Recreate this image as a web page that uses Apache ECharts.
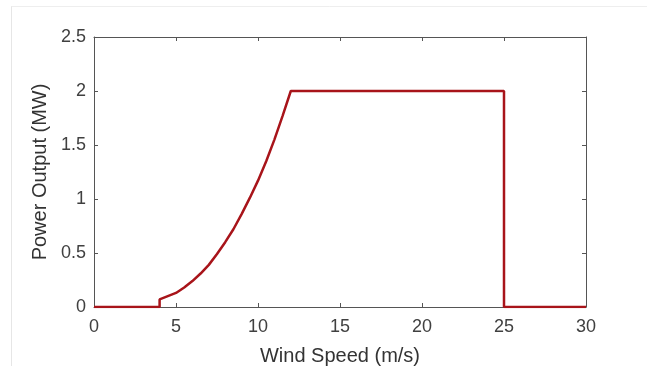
<!DOCTYPE html>
<html>
<head>
<meta charset="utf-8">
<script src="https://cdn.jsdelivr.net/npm/echarts@6/dist/echarts.min.js"></script>
<style>
  html, body { margin: 0; padding: 0; background: #fff; }
  #chart { width: 647px; height: 366px; }
</style>
</head>
<body>
<div id="chart"></div>
<script>
// Power curve: wind speed (m/s) and power output (MW)
var windSpeed = [0, 4, 4, 4.5, 5, 5.5, 6, 6.5, 7, 7.5, 8, 8.5, 9, 9.5, 10, 10.5, 11, 11.5, 12, 25, 25, 30];
var powerOut  = [0, 0, 0.07, 0.1, 0.13, 0.18, 0.24, 0.31, 0.39, 0.49, 0.6, 0.72, 0.86, 1.01, 1.17, 1.35, 1.55, 1.77, 2.0, 2.0, 0, 0];
var xTicks = [0, 5, 10, 15, 20, 25, 30];
var yTicks = [0, 0.5, 1, 1.5, 2, 2.5];

var points = windSpeed.map(function (w, i) { return [w, powerOut[i]]; });

var chart = echarts.init(document.getElementById('chart'), null, {renderer: 'canvas'});

var font = 'Liberation Sans, Arial, sans-serif';
var axisGray = '#555';

function boxAxis(pos) {
  return {
    type: 'value', position: pos, min: 0,
    max: pos === 'top' ? 30 : 2.5, interval: pos === 'top' ? 5 : 0.5,
    axisLine: {show: true, onZero: false, lineStyle: {color: axisGray, width: 1}},
    axisTick: {show: true, inside: true, length: 4, lineStyle: {color: axisGray}},
    axisLabel: {show: false},
    splitLine: {show: false}
  };
}

var option = {
  backgroundColor: '#fff',
  animation: false,
  grid: {left: 94, right: 61, top: 37, bottom: 59, outerBoundsMode: 'none', containLabel: false},
  graphic: [
    {type: 'line', shape: {x1: 11.5, y1: 6, x2: 11.5, y2: 366}, style: {stroke: '#e6e6e6', lineWidth: 1}},
    {type: 'line', shape: {x1: 11.5, y1: 6.5, x2: 647, y2: 6.5}, style: {stroke: '#eeeeee', lineWidth: 1}}
  ],
  xAxis: [{
    type: 'value', position: 'bottom', min: 0, max: 30, interval: 5,
    name: 'Wind Speed (m/s)', nameLocation: 'middle', nameGap: 39,
    nameTextStyle: {fontFamily: font, fontSize: 20, color: '#333'},
    axisLine: {show: true, onZero: false, lineStyle: {color: axisGray, width: 1}},
    axisTick: {show: true, inside: true, length: 4, lineStyle: {color: axisGray}},
    axisLabel: {
      fontFamily: font, fontSize: 18, color: '#404040', margin: 11,
      formatter: function (v) { return xTicks.indexOf(v) >= 0 ? String(v) : ''; }
    },
    splitLine: {show: false}
  }, boxAxis('top')],
  yAxis: [{
    type: 'value', position: 'left', min: 0, max: 2.5, interval: 0.5,
    name: 'Power Output (MW)', nameLocation: 'middle', nameGap: 36,
    nameTextStyle: {fontFamily: font, fontSize: 20, color: '#333'},
    axisLine: {show: true, onZero: false, lineStyle: {color: axisGray, width: 1}},
    axisTick: {show: true, inside: true, length: 4, lineStyle: {color: axisGray}},
    axisLabel: {
      fontFamily: font, fontSize: 18, color: '#404040', margin: 8,
      formatter: function (v) { return yTicks.indexOf(v) >= 0 ? String(v) : ''; }
    },
    splitLine: {show: false}
  }, boxAxis('right')],
  series: [{
    type: 'line',
    data: points,
    showSymbol: false,
    smooth: false,
    lineStyle: {color: '#a8141a', width: 2.5},
    z: 5
  }]
};

chart.setOption(option);
</script>
</body>
</html>
